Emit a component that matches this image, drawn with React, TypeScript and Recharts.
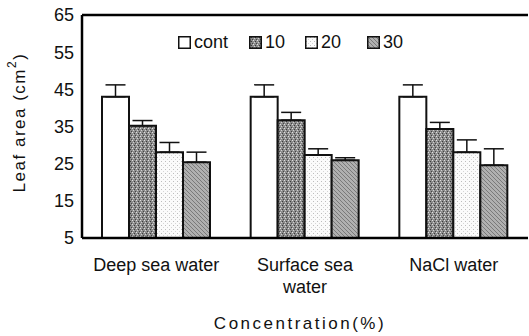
import { BarChart, Bar, XAxis, YAxis, ErrorBar, ReferenceLine, Label } from "recharts";

const categories = ["Deep sea water", "Surface sea\nwater", "NaCl water"];
const seriesNames = ["cont", "10", "20", "30"];

const contValues = [43.0, 43.0, 43.0];
const contErrors = [3.2, 3.2, 3.2];
const c10Values = [35.2, 36.7, 34.3];
const c10Errors = [1.4, 2.1, 1.8];
const c20Values = [28.1, 27.3, 28.1];
const c20Errors = [2.6, 1.7, 3.3];
const c30Values = [25.4, 25.9, 24.6];
const c30Errors = [2.7, 0.7, 4.4];

const yTicks = [5, 15, 25, 35, 45, 55, 65];

const data = categories.map((name, i) => ({
  name,
  cont: contValues[i],
  contErr: [0, contErrors[i]],
  s10: c10Values[i],
  s10Err: [0, c10Errors[i]],
  s20: c20Values[i],
  s20Err: [0, c20Errors[i]],
  s30: c30Values[i],
  s30Err: [0, c30Errors[i]],
}));

const FONT = "'Liberation Sans', Arial, sans-serif";
const INK = "#111";

const fills = ["#ffffff", "url(#p10)", "url(#p20)", "url(#p30)"];
const keys = ["cont", "s10", "s20", "s30"];
// legend item left edges, in px
const legendLeft = [178, 249, 305, 367];

function Patterns() {
  return (
    <svg width={0} height={0} style={{ position: "absolute" }}>
      <defs>
        <pattern id="p10" width={4} height={4} patternUnits="userSpaceOnUse">
          <rect width={4} height={4} fill="#8c8c8c" />
          <rect x={0} y={0} width={1} height={1} fill="#e0e0e0" />
          <rect x={2} y={1} width={1} height={1} fill="#3a3a3a" />
          <rect x={1} y={2} width={1} height={1} fill="#d0d0d0" />
          <rect x={3} y={3} width={1} height={1} fill="#444" />
        </pattern>
        <pattern id="p20" width={4} height={4} patternUnits="userSpaceOnUse">
          <rect width={4} height={4} fill="#fbfbfb" />
          <rect x={1} y={1} width={1} height={1} fill="#bdbdbd" />
          <rect x={3} y={3} width={1} height={1} fill="#d6d6d6" />
        </pattern>
        <pattern id="p30" width={4} height={4} patternUnits="userSpaceOnUse">
          <rect width={4} height={4} fill="#b0b0b0" />
          <path d="M0,0 L4,4" stroke="#7a7a7a" strokeWidth={1} />
          <path d="M-1,3 L1,5 M3,-1 L5,1" stroke="#7a7a7a" strokeWidth={1} />
        </pattern>
      </defs>
    </svg>
  );
}

function CategoryTick(props: any) {
  const { x, y, payload } = props;
  const lines = String(payload.value).split("\n");
  return (
    <text x={x} y={y} textAnchor="middle" fontSize={18} fill={INK} fontFamily={FONT}>
      {lines.map((l, i) => (
        <tspan key={i} x={x} dy={i === 0 ? 25 : 22}>
          {l}
        </tspan>
      ))}
    </text>
  );
}

function YTitle(props: any) {
  const vb = props.viewBox;
  const cx = 19;
  const cy = vb.y + vb.height / 2 - 4;
  return (
    <text
      x={cx}
      y={cy}
      transform={`rotate(-90 ${cx} ${cy})`}
      textAnchor="middle"
      dominantBaseline="central"
      fontSize={17}
      letterSpacing={1.5}
      fill={INK}
      fontFamily={FONT}
    >
      Leaf area (cm
      <tspan baselineShift="super" fontSize={12}>
        2
      </tspan>
      )
    </text>
  );
}

function XTitle() {
  return (
    <text x={300} y={329} textAnchor="middle" fontSize={17} letterSpacing={2.5} fill={INK} fontFamily={FONT}>
      Concentration(%)
    </text>
  );
}

function LegendOverlay() {
  return (
    <>
      {seriesNames.map((n, i) => (
        <div
          key={n}
          style={{
            position: "absolute",
            left: legendLeft[i],
            top: 33,
            display: "flex",
            alignItems: "center",
            fontFamily: FONT,
            fontSize: 18,
            color: INK,
            lineHeight: "18px",
          }}
        >
          <svg width={13} height={13} style={{ marginRight: 3 }}>
            <rect x={0.75} y={0.75} width={11.5} height={11.5} fill={fills[i]} stroke="#111" strokeWidth={1.5} />
          </svg>
          <span>{n}</span>
        </div>
      ))}
    </>
  );
}

export default function App() {
  return (
    <div style={{ position: "absolute", left: 0, top: 0, width: 529, height: 336, overflow: "hidden", background: "#fff" }}>
      <Patterns />
      <BarChart
        width={529}
        height={336}
        data={data}
        margin={{ top: 15, right: 1, left: 0, bottom: 0 }}
        barCategoryGap={20}
        barGap={0}
      >
        <XAxis
          dataKey="name"
          height={98}
          axisLine={{ stroke: "#000", strokeWidth: 2.5 }}
          tickLine={false}
          tick={<CategoryTick />}
          interval={0}
        >
          <Label content={<XTitle />} />
        </XAxis>
        <YAxis
          domain={[5, 65]}
          ticks={yTicks}
          width={82}
          axisLine={{ stroke: "#000", strokeWidth: 2.5 }}
          tickLine={false}
          tick={{ fontSize: 18, fill: INK, fontFamily: FONT }}
          allowDataOverflow
        >
          <Label content={<YTitle />} />
        </YAxis>
        <ReferenceLine y={65} stroke="#000" strokeWidth={2.5} />
        {keys.map((k, i) => (
          <Bar key={k} dataKey={k} fill={fills[i]} stroke="#111" strokeWidth={2} isAnimationActive={false}>
            <ErrorBar dataKey={`${k}Err`} width={10} stroke="#111" strokeWidth={1.5} direction="y" />
          </Bar>
        ))}
      </BarChart>
      <LegendOverlay />
    </div>
  );
}
